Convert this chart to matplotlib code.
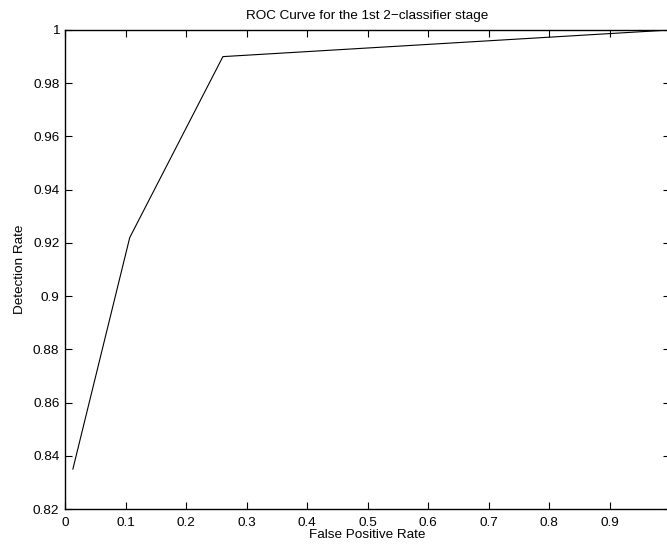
import matplotlib.pyplot as plt
import numpy as np

plt.rcParams['font.family'] = ['Liberation Sans', 'DejaVu Sans']

# pontos da curva ROC
fpr = [0.013, 0.107, 0.261, 1.0]
tpr = [0.835, 0.922, 0.990, 1.0]

xticks = [0, 0.1, 0.2, 0.3, 0.4, 0.5, 0.6, 0.7, 0.8, 0.9]
yticks = [0.82, 0.84, 0.86, 0.88, 0.9, 0.92, 0.94, 0.96, 0.98, 1]
ytick_labels = ['0.82', '0.84', '0.86', '0.88', '0.9', '0.92', '0.94', '0.96', '0.98', '1']

fig = plt.figure(figsize=(6.67, 5.44), dpi=100)
ax = fig.add_axes([65 / 667, 35 / 544, 605 / 667, 479 / 544])

ax.plot(fpr, tpr, color='black', linewidth=0.8)

ax.set_xlim(0, 1)
ax.set_ylim(0.82, 1)
ax.set_xticks(xticks)
ax.set_xticklabels([('%g' % t) for t in xticks])
ax.set_yticks(yticks)
ax.set_yticklabels(ytick_labels)
ax.tick_params(direction='in', top=True, right=True, labelsize=9.7, length=5, width=0.8, pad=4)
ax.tick_params(axis='x', pad=6)
for s in ax.spines.values():
    s.set_linewidth(1.0)

ax.set_title('ROC Curve for the 1st 2\u2212classifier stage', fontsize=9.7, pad=8)
ax.set_xlabel('False Positive Rate', fontsize=9.7, labelpad=0)
ax.set_ylabel('Detection Rate', fontsize=9.7, labelpad=5)

fig.savefig('out.png', dpi=100)
